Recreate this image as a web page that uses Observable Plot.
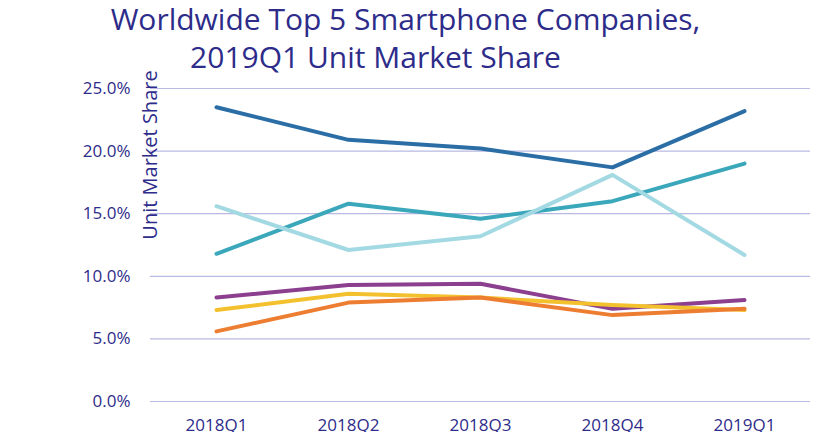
<!DOCTYPE html>
<html><head><meta charset="utf-8">
<script src="https://cdn.jsdelivr.net/npm/d3@7"></script>
<script src="https://cdn.jsdelivr.net/npm/@observablehq/plot@0.6"></script>
<style>body{margin:0;background:#fff}</style>
</head><body><div id="chart"></div>
<script>
const quarters = ["2018Q1","2018Q2","2018Q3","2018Q4","2019Q1"];
const seriesNames = ["Samsung","Huawei","Apple","Xiaomi","vivo","OPPO"];
const seriesColors = ["#2b6ea6","#3aa7ba","#a3d9e2","#8c3f8e","#f4c12e","#ed7d31"];
const samsung = [23.5,20.9,20.2,18.7,23.2];
const huawei = [11.8,15.8,14.6,16.0,19.0];
const apple = [15.6,12.1,13.2,18.1,11.7];
const xiaomi = [8.3,9.3,9.4,7.4,8.1];
const vivo = [7.3,8.6,8.3,7.7,7.3];
const oppo = [5.6,7.9,8.3,6.9,7.4];
const yTicks = [0,5,10,15,20,25];
const all = [samsung,huawei,apple,xiaomi,vivo,oppo];
const data = all.flatMap((vals,i)=>vals.map((v,j)=>({s:seriesNames[i],q:quarters[j],v})));
const navy = "#2e2c8a";
const chart = Plot.plot({
  width:826,height:432,marginTop:88,marginBottom:31,marginLeft:150,marginRight:16,
  style:{fontFamily:"Open Sans, sans-serif",fontSize:"17px",color:navy,background:"#fff"},
  x:{type:"point",domain:quarters,padding:0.5,label:null,tickSize:0,tickPadding:17},
  y:{domain:[0,25],ticks:yTicks,tickFormat:d=>d.toFixed(1)+"%",tickSize:0,tickPadding:20,label:null},
  color:{domain:seriesNames,range:seriesColors},
  marks:[
    Plot.gridY(yTicks,{stroke:"#b9b9e2",strokeOpacity:1,strokeWidth:1.2}),
    Plot.line(data,{x:"q",y:"v",z:"s",stroke:"s",strokeWidth:4}),
    Plot.text(["Worldwide Top 5 Smartphone Companies,"],{frameAnchor:"top",dy:-80,dx:-75,fontSize:30,fill:navy}),
    Plot.text(["2019Q1 Unit Market Share"],{frameAnchor:"top",dy:-42,dx:-105,fontSize:30,fill:navy}),
    Plot.text(["Unit Market Share"],{frameAnchor:"left",textAnchor:"middle",dx:0,dy:-90,rotate:-90,fontSize:20,fill:navy})
  ]
});
document.getElementById("chart").append(chart);
</script></body></html>
